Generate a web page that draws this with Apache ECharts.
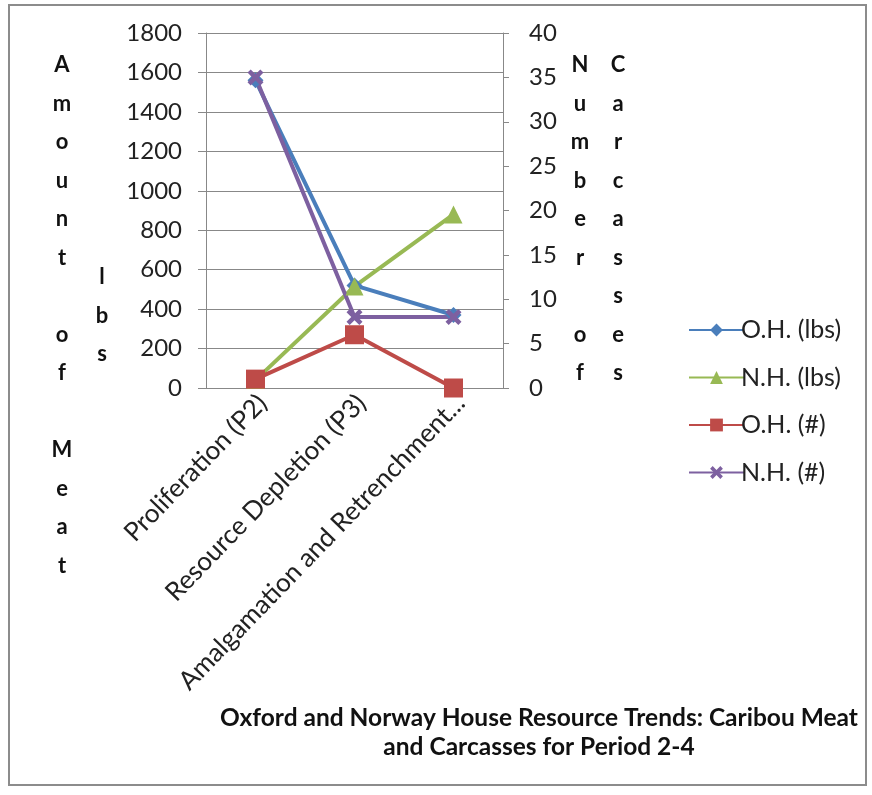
<!DOCTYPE html>
<html>
<head>
<meta charset="utf-8">
<script src="https://cdn.jsdelivr.net/npm/echarts@6/dist/echarts.min.js"></script>
<style>
  html, body { margin: 0; padding: 0; background: #fff; }
  #chart { width: 872px; height: 795px; }
</style>
</head>
<body>
<div id="chart"></div>
<script>
const categories = ['Proliferation (P2)', 'Resource Depletion (P3)', 'Amalgamation and Retrenchment...']
const ohLbs = [1560, 520, 370]
const nhLbs = [40, 515, 880]
const ohCount = [1, 6, 0]
const nhCount = [35, 8, 8]
const lbsAxis = [0, 1800, 200]
const countAxis = [0, 40, 5]
const legendNames = ['O.H. (lbs)', 'N.H. (lbs)', 'O.H. (#)', 'N.H. (#)']

const DATA = 'data'
const font = 'Lato, "Noto Sans", sans-serif'
const xMark = 'path://M0,2L2,0L5,3L8,0L10,2L7,5L10,8L8,10L5,7L2,10L0,8L3,5Z'

const chart = echarts.init(document.getElementById('chart'))

const letters = (s) => s.split('').join('\n')
const axisTitle = (x, y, text) => ({
  type: 'text',
  x: x,
  y: y,
  style: {
    text: letters(text),
    font: 'bold 22px ' + font,
    fill: '#111',
    align: 'center',
    verticalAlign: 'top',
    lineHeight: 38.5
  }
})

const line = (name, axis, values, symbol, size, color) => ({
  name,
  type: 'line',
  yAxisIndex: axis,
  [DATA]: values,
  symbol,
  symbolSize: size,
  lineStyle: { width: 4, color },
  itemStyle: { color }
})

const option = {
  backgroundColor: '#fff',
  animation: false,
  textStyle: { fontFamily: font },
  grid: { left: 206, right: 369, top: 33, bottom: 407, containLabel: false },
  legend: {
    orient: 'vertical',
    left: 683,
    top: 312,
    itemWidth: 55,
    itemHeight: 16,
    itemGap: 21.5,
    textStyle: { fontSize: 25, color: '#222', lineHeight: 26, padding: [0, 0, 0, -8] },
    [DATA]: legendNames
  },
  xAxis: {
    type: 'category',
    [DATA]: categories,
    axisLine: { lineStyle: { color: '#888' } },
    axisTick: { length: 8, lineStyle: { color: '#888' } },
    axisLabel: { rotate: 46, margin: 18, fontSize: 26, color: '#222', interval: 0, padding: [0, -10, 0, 0] }
  },
  yAxis: [
    {
      type: 'value',
      min: lbsAxis[0], max: lbsAxis[1], interval: lbsAxis[2],
      axisLine: { show: true, lineStyle: { color: '#888' } },
      axisTick: { show: true, length: 8, lineStyle: { color: '#888' } },
      axisLabel: { fontSize: 24, color: '#222', margin: 24, formatter: (v) => String(v) },
      splitLine: { lineStyle: { color: '#888' } }
    },
    {
      type: 'value',
      min: countAxis[0], max: countAxis[1], interval: countAxis[2],
      axisLine: { show: true, lineStyle: { color: '#888' } },
      axisTick: { show: true, length: 6, lineStyle: { color: '#888' } },
      axisLabel: { fontSize: 24, color: '#222', margin: 26, align: 'left' },
      splitLine: { show: false }
    }
  ],
  series: [
    line(legendNames[0], 0, ohLbs, 'diamond', 16, '#4A7EBB'),
    line(legendNames[1], 0, nhLbs, 'triangle', 18, '#98B954'),
    line(legendNames[2], 1, ohCount, 'rect', 19, '#BE4B48'),
    line(legendNames[3], 1, nhCount, xMark, 16, '#7D60A0')
  ],
  graphic: [
    {
      type: 'rect',
      shape: { x: 9, y: 5, width: 857, height: 780 },
      style: { fill: 'none', stroke: '#8c8c8c', lineWidth: 2 },
      silent: true
    },
    axisTitle(62, 46, 'Amount of Meat'),
    axisTitle(102, 258, 'lbs'),
    axisTitle(580, 46, 'Number of'),
    axisTitle(618, 46, 'Carcasses'),
    {
      type: 'text',
      x: 539,
      y: 704,
      style: {
        text: 'Oxford and Norway House Resource Trends: Caribou Meat\nand Carcasses for Period 2-4',
        font: 'bold 24.5px ' + font,
        fill: '#111',
        align: 'center',
        verticalAlign: 'top',
        lineHeight: 29
      }
    }
  ]
}

chart.setOption(option)
window.addEventListener('resize', () => chart.resize())
</script>
</body>
</html>
